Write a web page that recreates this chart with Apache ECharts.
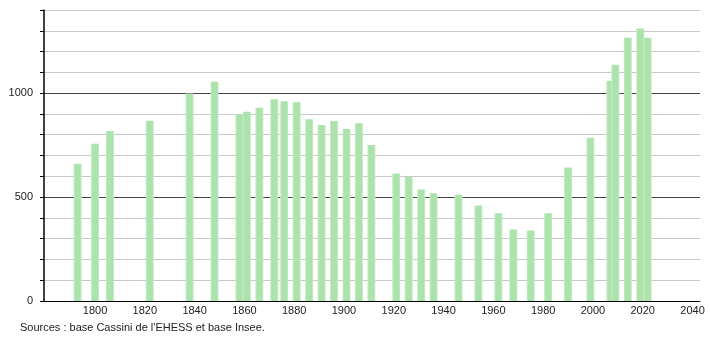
<!DOCTYPE html>
<html>
<head>
<meta charset="utf-8">
<script src="https://cdn.jsdelivr.net/npm/echarts@6/dist/echarts.min.js"></script>
<style>html,body{margin:0;padding:0;background:#fff;}#c{width:710px;height:340px;}</style>
</head>
<body>
<div id="c"></div>
<script>
var years = [1793,1800,1806,1822,1838,1848,1858,1861,1866,1872,1876,1881,1886,1891,1896,1901,1906,1911,1921,1926,1931,1936,1946,1954,1962,1968,1975,1982,1990,1999,2007,2009,2014,2019,2022];
var population = [660,757,818,867,998,1055,900,911,930,971,961,956,874,847,866,827,855,751,614,598,537,518,511,460,422,344,339,422,642,785,1060,1137,1266,1311,1266];
var xTicks = [1800,1820,1840,1860,1880,1900,1920,1940,1960,1980,2000,2020,2040];
var yLabels = [0,500,1000];
var sourceText = "Sources : base Cassini de l'EHESS et base Insee.";

var data = years.map(function (y, i) { return [y, population[i]]; });
var chart = echarts.init(document.getElementById('c'), null, {renderer: 'canvas'});
var font = 'Liberation Sans, Arial, sans-serif';
function plain(v) { return String(v); }
chart.setOption({
  animation: false,
  grid: {left: 44, right: 10, top: 10, bottom: 39},
  xAxis: {
    type: 'value', min: 1779.5, max: 2043,
    axisLine: {show: true, lineStyle: {color: '#000', width: 1}},
    axisTick: {show: false},
    splitLine: {show: false},
    axisLabel: {customValues: xTicks, formatter: plain, color: '#222', fontSize: 11, fontFamily: font, margin: 4, showMinLabel: true, showMaxLabel: true}
  },
  yAxis: {
    type: 'value', min: 0, max: 1400, interval: 100,
    axisLine: {show: true, lineStyle: {color: '#000', width: 1.5}},
    axisTick: {show: true, length: 4, lineStyle: {color: '#000'}},
    splitLine: {show: true, lineStyle: {color: ['#444', '#c8c8c8', '#c8c8c8', '#c8c8c8', '#c8c8c8'], width: 1}},
    axisLabel: {customValues: yLabels, formatter: plain, color: '#222', fontSize: 11, fontFamily: font, margin: 11}
  },
  series: [{
    type: 'bar', data: data, barWidth: 8,
    itemStyle: {color: new echarts.graphic.LinearGradient(0, 0, 1, 0, [
      {offset: 0, color: '#c9edc9'}, {offset: 0.2, color: '#ace2ac'},
      {offset: 0.8, color: '#ace2ac'}, {offset: 1, color: '#c9edc9'}])}
  }],
  graphic: [{
    type: 'text', left: 20, top: 322,
    style: {text: sourceText, fill: '#222', font: '11px ' + font}
  }]
});
</script>
</body>
</html>
